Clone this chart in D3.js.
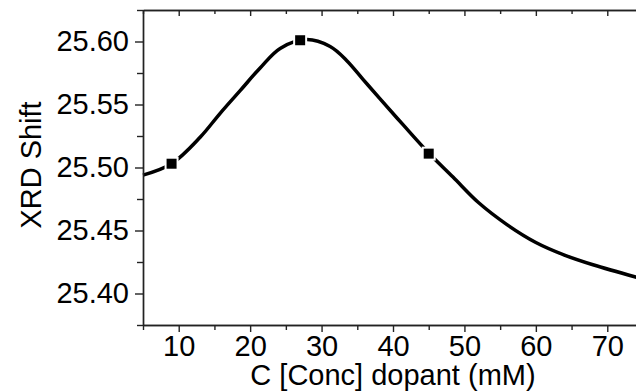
<!DOCTYPE html>
<html>
<head>
<meta charset="utf-8">
<script src="https://cdn.jsdelivr.net/npm/d3@7"></script>
<style>
  body { margin: 0; background: #fff; overflow: hidden; }
  text { font-family: "Liberation Sans", Arial, sans-serif; fill: #000; }
</style>
</head>
<body>
<div id="chart"></div>
<script>
// Measured points (squares)
const conc = [9, 27, 45];
const shift = [25.503, 25.601, 25.511];

// Fitted curve
const fitX = [5, 9, 13, 15.8, 18.6, 21.4, 24.2, 27.9, 31.2, 33.5, 35.8, 38.1, 41.4, 45, 48.4, 52, 56, 60, 64, 68, 75];
const fitY = [25.494, 25.503, 25.524, 25.543, 25.561, 25.579, 25.5945, 25.6015, 25.596, 25.585, 25.570, 25.555, 25.534, 25.5115, 25.4924, 25.472, 25.4545, 25.4405, 25.4305, 25.4228, 25.4115];

const xTicks = [10, 20, 30, 40, 50, 60, 70];
const xMinor = [5, 15, 25, 35, 45, 55, 65, 75];
const yTicks = [25.40, 25.45, 25.50, 25.55, 25.60];
const yMinor = [25.375, 25.425, 25.475, 25.525, 25.575, 25.625];

const W = 636, H = 391;
const margin = { top: 10, right: -7, bottom: 66, left: 143 };
const width = W - margin.left - margin.right;
const height = H - margin.top - margin.bottom;

const svg = d3.select("#chart").append("svg")
    .attr("width", W)
    .attr("height", H)
    .append("g")
    .attr("transform", `translate(${margin.left},${margin.top})`);

const x = d3.scaleLinear().domain([5, 75]).range([0, width]);
const y = d3.scaleLinear().domain([25.375, 25.625]).range([height, 0]);

// curve
const data = fitX.map((d, i) => ({ x: d, y: fitY[i] }));
svg.append("path")
    .datum(data)
    .attr("fill", "none")
    .attr("stroke", "#000")
    .attr("stroke-width", 3.5)
    .attr("d", d3.line().x(d => x(d.x)).y(d => y(d.y)).curve(d3.curveCatmullRom.alpha(0.5)));

// squares with a white gap round them
const pts = conc.map((d, i) => ({ x: d, y: shift[i] }));
svg.selectAll(".pt")
    .data(pts)
    .enter().append("rect")
    .attr("class", "pt")
    .attr("x", d => x(d.x) - 5)
    .attr("y", d => y(d.y) - 5)
    .attr("width", 10)
    .attr("height", 10)
    .attr("fill", "#000")
    .attr("stroke", "#fff")
    .attr("stroke-width", 4)
    .attr("paint-order", "stroke");

// axes
function styleAxis(g) {
    g.selectAll(".domain").attr("stroke", "#222").attr("stroke-width", 1.4);
    g.selectAll(".tick line").attr("stroke", "#222").attr("stroke-width", 1.4);
    g.selectAll(".tick text").style("font-size", "29px");
}

svg.append("g")
    .attr("transform", `translate(0,${height})`)
    .call(d3.axisBottom(x).tickValues(xTicks).tickSize(7).tickPadding(3).tickSizeOuter(0))
    .call(styleAxis);
svg.append("g")
    .attr("transform", `translate(0,${height})`)
    .call(d3.axisBottom(x).tickValues(xMinor).tickSize(5).tickFormat("").tickSizeOuter(0))
    .call(styleAxis);

// top axis, ticks pointing into the plot
svg.append("g")
    .call(d3.axisTop(x).tickValues(xTicks).tickSize(-6).tickFormat("").tickSizeOuter(0))
    .call(styleAxis);
svg.append("g")
    .call(d3.axisTop(x).tickValues(xMinor).tickSize(-4).tickFormat("").tickSizeOuter(0))
    .call(styleAxis);

svg.append("g")
    .call(d3.axisLeft(y).tickValues(yTicks).tickSize(8).tickPadding(6).tickFormat(d3.format(".2f")).tickSizeOuter(0))
    .call(styleAxis);
svg.append("g")
    .call(d3.axisLeft(y).tickValues(yMinor).tickSize(6).tickFormat("").tickSizeOuter(0))
    .call(styleAxis);

// axis labels
svg.append("text")
    .attr("x", x(40))
    .attr("y", height + 60)
    .attr("text-anchor", "middle")
    .style("font-size", "29px")
    .text("C [Conc] dopant (mM)");

svg.append("text")
    .attr("transform", "rotate(-90)")
    .attr("x", -(165 - margin.top))
    .attr("y", -margin.left + 41)
    .attr("text-anchor", "middle")
    .style("font-size", "29px")
    .text("XRD Shift");
</script>
</body>
</html>
